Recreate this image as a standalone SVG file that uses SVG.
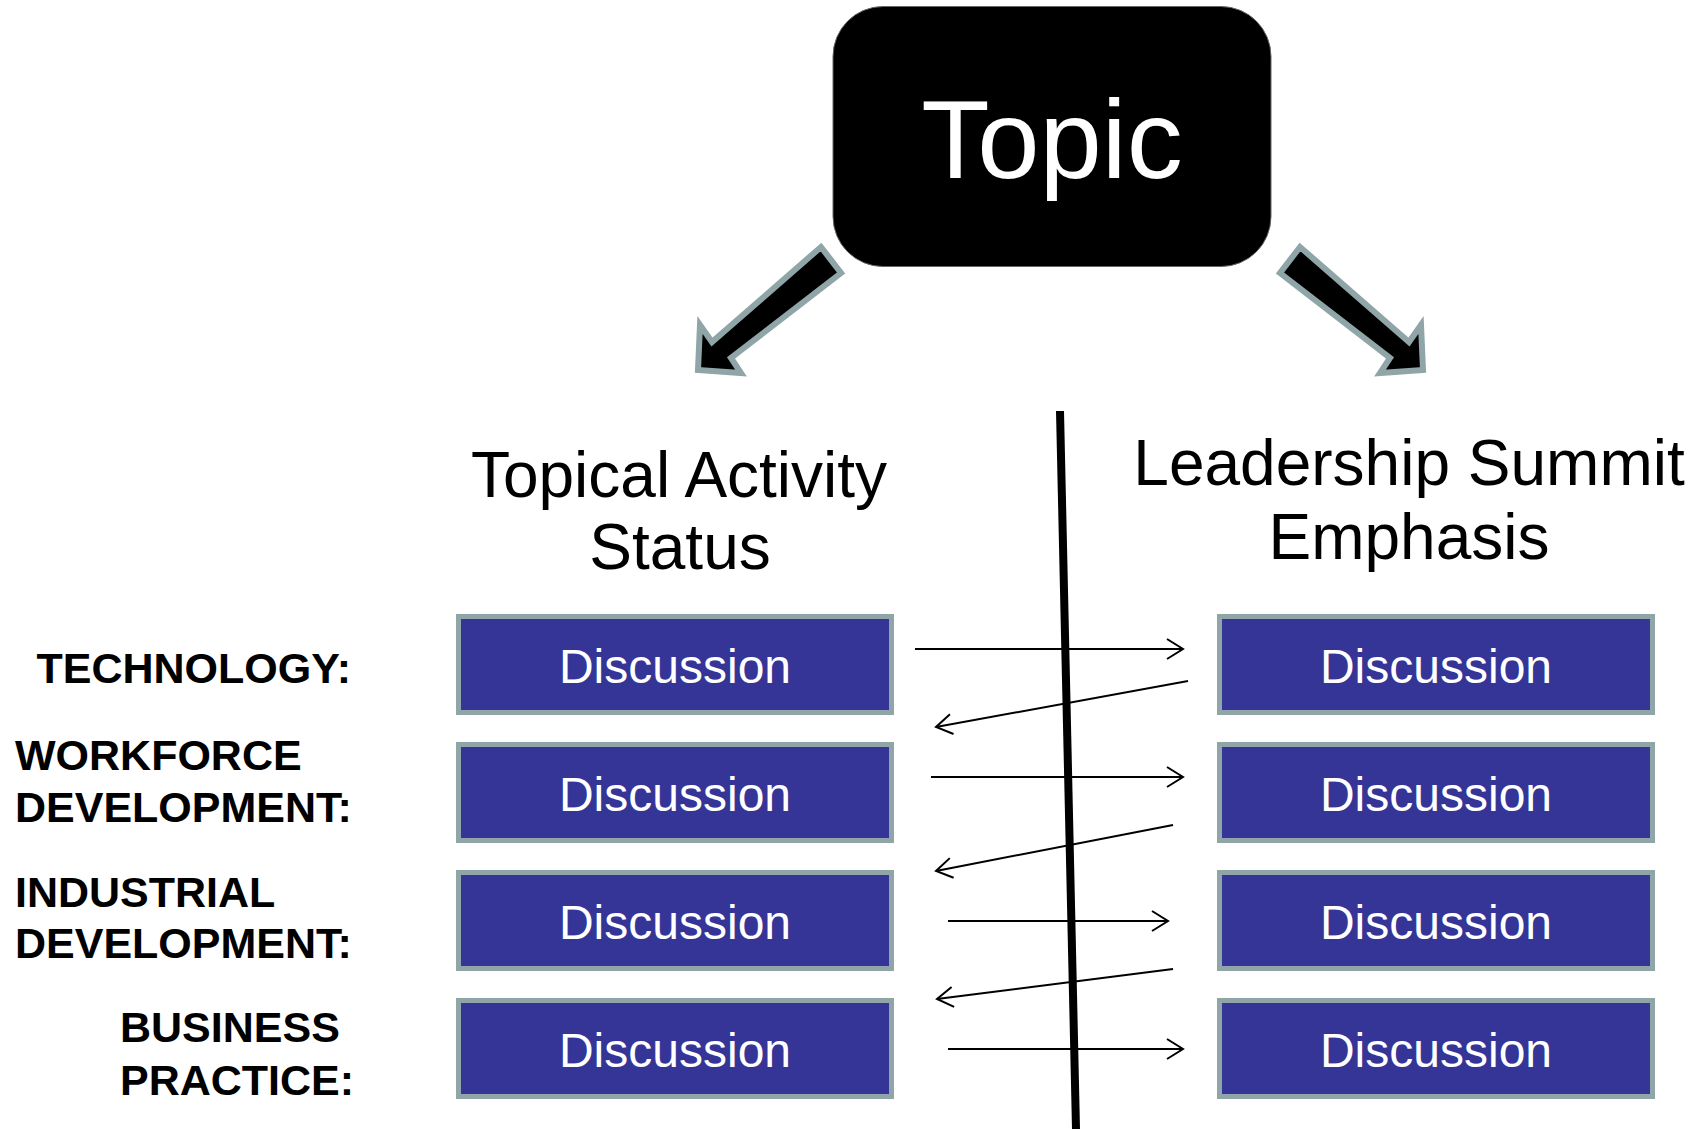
<svg xmlns="http://www.w3.org/2000/svg" width="1706" height="1129" viewBox="0 0 1706 1129">
<style>
.box{fill:#353598;stroke:#8fa5a8;stroke-width:5}
.dt{font-family:"Liberation Sans",Arial,sans-serif;font-size:48px;fill:#fff;text-anchor:middle}
.hd{font-family:"Liberation Sans",Arial,sans-serif;font-size:64px;fill:#000;text-anchor:middle}
.lb{font-family:"Liberation Sans",Arial,sans-serif;font-size:43px;font-weight:bold;fill:#000}
.big{fill:#000;stroke:#8fa5a8;stroke-width:6;stroke-linejoin:miter}
.cn{stroke:#000;stroke-width:2;fill:none;marker-end:url(#open)}
</style>
<defs>
<marker id="open" markerUnits="userSpaceOnUse" markerWidth="24" markerHeight="24" refX="18" refY="11" orient="auto">
<path d="M2,1 L18,11 L2,21" fill="none" stroke="#000" stroke-width="2"/>
</marker>
</defs>
<rect width="1706" height="1129" fill="#fff"/>

<g id="topic">
<rect x="833" y="6.5" width="438" height="260" rx="50" ry="50" fill="#000" stroke="#666" stroke-width="1"/>
<text x="1052" y="178" font-family="Liberation Sans,Arial,sans-serif" font-size="112" fill="#fff" text-anchor="middle">Topic</text>
</g>

<g id="big-arrows">
<polygon id="arrow-left" class="big" points="821,247 841,273 731,358 741,373 698,370 700,325 712,342"/>
<polygon id="arrow-right" class="big" points="1300,247 1280,273 1390,358 1380,373 1423,370 1421,325 1409,342"/>
</g>

<g id="divider">
<line x1="1060" y1="411" x2="1076" y2="1129" stroke="#000" stroke-width="8"/>
</g>

<g id="header-left">
<text class="hd" x="679" y="497" font-size="65.5">Topical Activity</text>
<text class="hd" x="680" y="569" font-size="65.5">Status</text>
</g>
<g id="header-right">
<text class="hd" x="1409" y="485">Leadership Summit</text>
<text class="hd" x="1409" y="559">Emphasis</text>
</g>

<g id="labels">
<text class="lb" x="351" y="683" text-anchor="end">TECHNOLOGY:</text>
<text class="lb" x="15" y="770">WORKFORCE</text>
<text class="lb" x="15" y="822">DEVELOPMENT:</text>
<text class="lb" x="15" y="907">INDUSTRIAL</text>
<text class="lb" x="15" y="958">DEVELOPMENT:</text>
<text class="lb" x="120" y="1042">BUSINESS</text>
<text class="lb" x="120" y="1095">PRACTICE:</text>
</g>

<g id="left-1"><rect class="box" x="458.5" y="616.5" width="433" height="96"/><text class="dt" x="675" y="683">Discussion</text></g>
<g id="left-2"><rect class="box" x="458.5" y="744.5" width="433" height="96"/><text class="dt" x="675" y="811">Discussion</text></g>
<g id="left-3"><rect class="box" x="458.5" y="872.5" width="433" height="96"/><text class="dt" x="675" y="939">Discussion</text></g>
<g id="left-4"><rect class="box" x="458.5" y="1000.5" width="433" height="96"/><text class="dt" x="675" y="1067">Discussion</text></g>
<g id="right-1"><rect class="box" x="1219.5" y="616.5" width="433" height="96"/><text class="dt" x="1436" y="683">Discussion</text></g>
<g id="right-2"><rect class="box" x="1219.5" y="744.5" width="433" height="96"/><text class="dt" x="1436" y="811">Discussion</text></g>
<g id="right-3"><rect class="box" x="1219.5" y="872.5" width="433" height="96"/><text class="dt" x="1436" y="939">Discussion</text></g>
<g id="right-4"><rect class="box" x="1219.5" y="1000.5" width="433" height="96"/><text class="dt" x="1436" y="1067">Discussion</text></g>

<g id="connectors">
<line class="cn" x1="915" y1="649" x2="1183" y2="649"/>
<line class="cn" x1="1188" y1="681" x2="936" y2="727"/>
<line class="cn" x1="931" y1="777" x2="1183" y2="777"/>
<line class="cn" x1="1173" y1="825" x2="936" y2="871"/>
<line class="cn" x1="948" y1="921" x2="1168" y2="921"/>
<line class="cn" x1="1173" y1="969" x2="937" y2="999"/>
<line class="cn" x1="948" y1="1049" x2="1183" y2="1049"/>
</g>
</svg>
